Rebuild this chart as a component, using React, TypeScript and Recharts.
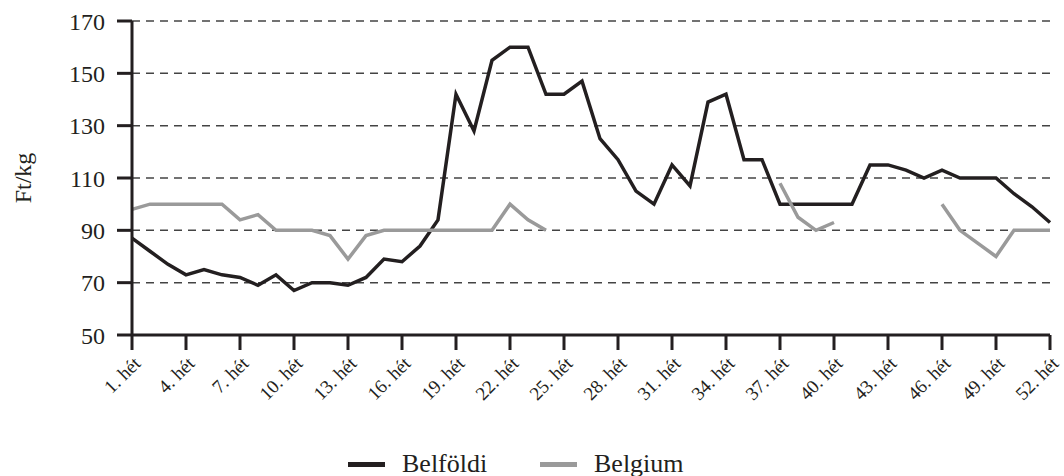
import { LineChart, Line, XAxis, YAxis, CartesianGrid, Legend } from "recharts";

/* ── Data ───────────────────────────────────────────────── */
const weeks = Array.from({ length: 52 }, (_, i) => i + 1);

// Belföldi (domestic) price, Ft/kg
const belfoldi = [
  87, 82, 77, 73, 75, 73, 72, 69, 73, 67, 70, 70, 69, 72, 79, 78, 84, 94,
  142, 128, 155, 160, 160, 142, 142, 147, 125, 117, 105, 100, 115, 107, 139,
  142, 117, 117, 100, 100, 100, 100, 100, 115, 115, 113, 110, 113, 110, 110,
  110, 104, 99, 93,
];

// Belgium price, Ft/kg (null = no quote)
const belgium: (number | null)[] = [
  98, 100, 100, 100, 100, 100, 94, 96, 90, 90, 90, 88, 79, 88, 90, 90, 90, 90,
  90, 90, 90, 100, 94, 90, null, null, null, null, null, null, null, null,
  null, null, null, null, 108, 95, 90, 93, null, null, null, null, null, 100,
  90, 85, 80, 90, 90, 90,
];

const xTicks = [1, 4, 7, 10, 13, 16, 19, 22, 25, 28, 31, 34, 37, 40, 43, 46, 49, 52];
const yTicks = [50, 70, 90, 110, 130, 150, 170];

const data = weeks.map((w, i) => ({
  week: w,
  belfoldi: belfoldi[i],
  belgium: belgium[i],
}));

const FONT = '"Liberation Serif", "Times New Roman", serif';
const BLACK = "#231f20";
const GRAY = "#9a9a9a";

/* ── Rotated week tick ──────────────────────────────────── */
// eslint-disable-next-line @typescript-eslint/no-explicit-any
function WeekTick(props: any) {
  const { x, y, payload } = props;
  return (
    <g transform={`translate(${x + 5},${y + 8}) rotate(-45)`}>
      <text
        textAnchor="end"
        dy="0.35em"
        fontSize={19}
        fontFamily={FONT}
        fill={BLACK}
      >
        {`${payload.value}. hét`}
      </text>
    </g>
  );
}

/* ── Legend ─────────────────────────────────────────────── */
function ChartLegend() {
  const item = (color: string, label: string, left: number) => (
    <div style={{ position: "absolute", left, top: 3, display: "flex", alignItems: "center", height: 30 }}>
      <span
        style={{ display: "inline-block", width: 37, height: 5, background: color, marginRight: 17 }}
      />
      <span style={{ fontSize: 26, fontFamily: FONT, color: BLACK, lineHeight: "30px" }}>{label}</span>
    </div>
  );
  return (
    <div style={{ position: "relative", height: 30, width: 1064 }}>
      {item(BLACK, "Belföldi", 348)}
      {item(GRAY, "Belgium", 540)}
    </div>
  );
}

export default function App() {
  return (
    <div style={{ position: "absolute", left: 0, top: 0, background: "#fff" }}>
      <LineChart
        width={1064}
        height={476}
        data={data}
        margin={{ top: 21, right: 14, left: 0, bottom: 0 }}
      >
        <CartesianGrid vertical={false} stroke="#444" strokeDasharray="8 6" strokeWidth={1.5} />

        <XAxis
          dataKey="week"
          type="number"
          domain={[1, 52]}
          ticks={xTicks}
          interval={0}
          height={111}
          tickSize={15}
          tickMargin={2}
          stroke={BLACK}
          strokeWidth={3}
          tick={<WeekTick />}
        />

        <YAxis
          domain={[50, 170]}
          ticks={yTicks}
          interval={0}
          width={132}
          tickSize={15}
          tickMargin={12}
          stroke={BLACK}
          strokeWidth={3}
          tick={{ fontSize: 24, fontFamily: FONT, fill: BLACK }}
          label={{
            value: "Ft/kg",
            angle: -90,
            position: "insideLeft",
            dx: 17,
            style: { fontSize: 24, fontFamily: FONT, fill: BLACK, textAnchor: "middle" },
          }}
        />

        <Legend
          verticalAlign="bottom"
          height={30}
          wrapperStyle={{ left: 0, bottom: 0, width: 1064 }}
          content={<ChartLegend />}
        />

        <Line
          dataKey="belfoldi"
          name="Belföldi"
          stroke={BLACK}
          strokeWidth={3.5}
          dot={false}
          type="linear"
          isAnimationActive={false}
        />
        <Line
          dataKey="belgium"
          name="Belgium"
          stroke={GRAY}
          strokeWidth={3.5}
          dot={false}
          type="linear"
          connectNulls={false}
          isAnimationActive={false}
        />
      </LineChart>
    </div>
  );
}
